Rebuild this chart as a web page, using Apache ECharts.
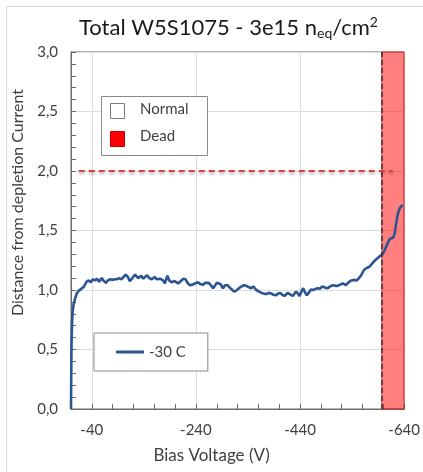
<!DOCTYPE html>
<html>
<head>
<meta charset="utf-8">
<script src="https://cdn.jsdelivr.net/npm/echarts@6/dist/echarts.min.js"></script>
<style>
  html, body { margin: 0; padding: 0; background: #fff; }
  #chart { width: 423px; height: 472px; }
</style>
</head>
<body>
<div id="chart"></div>
<script>
// bias voltage (V) and distance from depletion current, -30 C
const voltages = [
  0, -0.5, -1, -2, -3, -5, -8, -11, -15, -20, -25, -30, -34, -38, -42, -46, -50, -54, -59, -63,
  -67, -71, -75, -80, -84, -88, -92, -97, -101, -105, -109, -113, -118, -123, -126, -129, -132, -135, -139, -142,
  -146, -150, -155, -158, -161, -164, -167, -171, -174, -177, -180, -183, -185, -189, -193, -196, -199, -202, -206, -209,
  -212, -216, -220, -224, -228, -231, -234, -238, -241, -244, -248, -251, -254, -258, -261, -264, -268, -273, -277, -280,
  -283, -287, -292, -296, -301, -305, -310, -314, -319, -324, -328, -332, -337, -341, -346, -350, -353, -356, -362, -366,
  -370, -375, -380, -385, -389, -394, -398, -402, -406, -410, -413, -416, -420, -423, -426, -429, -432, -436, -439, -443,
  -446, -449, -453, -457, -461, -465, -470, -474, -478, -483, -488, -493, -498, -503, -508, -512, -517, -522, -525, -528,
  -532, -535, -538, -541, -545, -549, -553, -557, -560, -563, -568, -573, -578, -582, -587, -592, -597, -601, -605, -608,
  -611, -615, -619, -622, -624, -627, -629, -632, -635, -637
]
const distance = [
  0, 0.3, 0.55, 0.72, 0.81, 0.88, 0.93, 0.97, 0.995, 1.01, 1.03, 1.07, 1.08, 1.065, 1.09, 1.08, 1.095, 1.07, 1.1, 1.075,
  1.06, 1.08, 1.09, 1.085, 1.09, 1.09, 1.1, 1.09, 1.11, 1.13, 1.11, 1.075, 1.1, 1.13, 1.115, 1.1, 1.115, 1.12, 1.095, 1.09,
  1.125, 1.1, 1.09, 1.105, 1.11, 1.09, 1.08, 1.095, 1.1, 1.08, 1.055, 1.09, 1.12, 1.08, 1.065, 1.08, 1.075, 1.07, 1.055, 1.065,
  1.08, 1.095, 1.09, 1.06, 1.04, 1.05, 1.045, 1.055, 1.06, 1.065, 1.05, 1.045, 1.045, 1.06, 1.07, 1.06, 1.045, 1.015, 1.04, 1.06,
  1.07, 1.05, 1.015, 1.04, 1.04, 1.02, 1.0, 0.985, 1.0, 1.02, 1.03, 1.04, 1.035, 1.025, 1.015, 1.03, 1.035, 1.0, 0.985, 0.975,
  0.97, 0.965, 0.975, 0.97, 0.96, 0.955, 0.97, 0.975, 0.96, 0.95, 0.965, 0.975, 0.965, 0.955, 0.95, 0.965, 0.985, 0.97, 0.95, 0.99,
  1.015, 0.985, 0.955, 0.98, 1.005, 1.0, 1.01, 1.015, 1.01, 1.03, 1.02, 1.015, 1.03, 1.04, 1.035, 1.035, 1.045, 1.055, 1.05, 1.04,
  1.06, 1.07, 1.08, 1.09, 1.085, 1.08, 1.1, 1.12, 1.145, 1.17, 1.185, 1.195, 1.22, 1.24, 1.26, 1.28, 1.295, 1.32, 1.36, 1.39,
  1.42, 1.435, 1.44, 1.48, 1.545, 1.62, 1.66, 1.69, 1.705, 1.715
]
// reference level and "dead" region
const thresholdLevel = 2.0
const thresholdRange = [-15, -618]
const deadRange = [-597, -640]
const xTicks = [-640, 0] // axis extent, labels every 200 V from -640
const yTicks = [0, 3]

const curve = voltages.map((v, i) => [v, distance[i]])
const fmtComma = v => v.toFixed(1).replace('.', ',')
const font = 'Lato, "Open Sans", sans-serif'
const textCol = '#404040'
const axisCol = '#6b6b6b'

const chart = echarts.init(document.getElementById('chart'))

const option = {
  backgroundColor: '#fff',
  animation: false,
  title: {
    left: 74,
    top: 10,
    text: '{a|Total W5S1075 - 3e15 n}{b|eq}{a|/cm}{c|2}',
    textStyle: {
      fontWeight: 'normal',
      rich: {
        a: { fontFamily: font, fontSize: 22, fontWeight: 'normal', color: '#1a1a1a' },
        b: { fontFamily: font, fontSize: 14, fontWeight: 'normal', color: '#1a1a1a', padding: [11, 0, 0, 0] },
        c: { fontFamily: font, fontSize: 14, fontWeight: 'normal', color: '#1a1a1a', padding: [0, 0, 11, 0] }
      }
    }
  },
  grid: { left: 71, top: 52, right: 18, bottom: 63, show: true, borderColor: axisCol, borderWidth: 1 },
  legend: {
    left: 94,
    top: 333,
    orient: 'horizontal',
    data: [{ name: '-30 C', icon: 'rect' }],
    backgroundColor: '#fff',
    borderColor: '#8a8a8a',
    borderWidth: 1,
    borderRadius: 0,
    padding: [10, 22, 10, 22],
    itemWidth: 28,
    itemHeight: 3,
    itemGap: 4,
    textStyle: { fontFamily: font, fontSize: 15, color: textCol, lineHeight: 18 }
  },
  xAxis: [
    {
      type: 'value',
      min: xTicks[0],
      max: xTicks[1],
      interval: 200,
      inverse: true,
      name: 'Bias Voltage (V)',
      nameLocation: 'middle',
      nameGap: 38,
      nameTextStyle: { fontFamily: font, fontSize: 17, color: textCol, padding: [0, 52, 0, 0] },
      axisLine: { show: true, onZero: false, lineStyle: { color: axisCol, width: 1 } },
      axisTick: { show: false },
      axisLabel: {
        fontFamily: font, fontSize: 15, color: textCol, margin: 14,
        formatter: v => (v === 0 ? '' : String(v))
      },
      splitLine: { show: true, lineStyle: { color: '#dcdcdc', width: 1 } }
    },
    {
      type: 'value',
      min: xTicks[0],
      max: xTicks[1],
      interval: 40,
      inverse: true,
      position: 'bottom',
      axisLine: { show: false },
      axisTick: { show: true, inside: true, length: 5, lineStyle: { color: axisCol } },
      axisLabel: { show: false },
      splitLine: { show: false }
    }
  ],
  yAxis: {
    type: 'value',
    min: yTicks[0],
    max: yTicks[1],
    interval: 0.5,
    name: 'Distance from depletion Current',
    nameLocation: 'middle',
    nameGap: 40,
    nameTextStyle: { fontFamily: font, fontSize: 16, color: textCol, padding: [0, 0, 0, 56] },
    axisLine: { show: true, lineStyle: { color: axisCol, width: 1 } },
    axisTick: { show: true, inside: true, length: 5, lineStyle: { color: axisCol } },
    minorTick: { show: true, splitNumber: 5, length: 5, lineStyle: { color: axisCol } },
    axisLabel: { fontFamily: font, fontSize: 15, color: textCol, margin: 13, formatter: fmtComma },
    splitLine: { show: true, lineStyle: { color: '#dcdcdc', width: 1 } }
  },
  series: [
    {
      name: 'threshold',
      type: 'line',
      symbol: 'none',
      silent: true,
      z: 3,
      data: [[thresholdRange[0], thresholdLevel], [thresholdRange[1], thresholdLevel]],
      lineStyle: {
        color: '#e23b3b', width: 2, type: [6, 4],
        shadowColor: 'rgba(0,0,0,0.35)', shadowBlur: 3, shadowOffsetY: 2
      }
    },
    {
      name: '-30 C',
      type: 'line',
      symbol: 'none',
      z: 4,
      data: curve,
      lineStyle: { color: '#2b5493', width: 2.6 },
      itemStyle: { color: '#2b5493' }
    },
    {
      name: 'dead',
      type: 'line',
      symbol: 'none',
      silent: true,
      z: 6,
      data: [],
      markArea: {
        silent: true,
        itemStyle: { color: 'rgba(255,0,0,0.5)', borderColor: 'rgba(200,30,30,0.8)', borderWidth: 1 },
        data: [[{ xAxis: deadRange[0], yAxis: yTicks[0] }, { xAxis: deadRange[1], yAxis: yTicks[1] }]]
      },
      markLine: {
        silent: true,
        symbol: 'none',
        label: { show: false },
        lineStyle: { color: '#333', width: 1.5, type: [5, 3] },
        data: [{ xAxis: deadRange[0] }]
      }
    }
  ],
  graphic: [
    // outer chart border
    { type: 'rect', left: 4, top: 4, shape: { width: 440, height: 490 }, style: { fill: null, stroke: '#d9d9d9', lineWidth: 1 }, z: 0, silent: true },
    // Normal / Dead key
    { type: 'rect', left: 101, top: 96, shape: { width: 106, height: 59 }, style: { fill: '#fff', stroke: '#8a8a8a', lineWidth: 1 }, z: 100 },
    { type: 'rect', left: 110, top: 103, shape: { width: 14, height: 15 }, style: { fill: '#fff', stroke: '#7a7a7a', lineWidth: 1 }, z: 101 },
    { type: 'rect', left: 110, top: 131, shape: { width: 14, height: 15 }, style: { fill: '#ff0000', stroke: '#c00000', lineWidth: 1 }, z: 101 },
    { type: 'text', left: 140, top: 102, style: { text: 'Normal', font: '15px ' + font, fill: textCol }, z: 101 },
    { type: 'text', left: 140, top: 129, style: { text: 'Dead', font: '15px ' + font, fill: textCol }, z: 101 }
  ]
}

chart.setOption(option)
</script>
</body>
</html>
